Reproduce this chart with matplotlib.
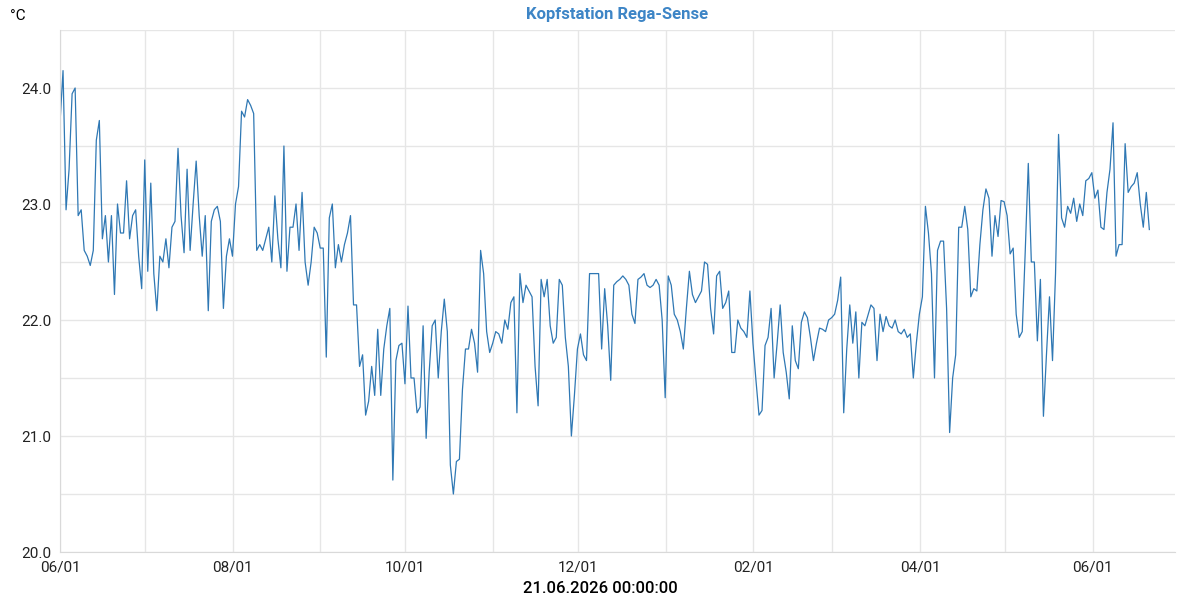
import matplotlib
matplotlib.use("Agg")
import matplotlib.pyplot as plt
import matplotlib.dates as mdates
import numpy as np
import pandas as pd

plt.rcParams['font.family'] = ['Roboto', 'DejaVu Sans']

# temperature readings (°C), in order, roughly daily from 2025-06-01 to 2026-06-21
temps = [
    23.7, 24.15, 22.95, 23.3, 23.95, 24.0, 22.9, 22.95, 22.6, 22.55, 22.47, 22.6,
    23.55, 23.72, 22.7, 22.9, 22.5, 22.9, 22.22, 23.0, 22.75, 22.75, 23.2, 22.7,
    22.9, 22.95, 22.55, 22.27, 23.38, 22.42, 23.18, 22.4, 22.08, 22.55, 22.5, 22.7,
    22.45, 22.8, 22.85, 23.48, 22.9, 22.58, 23.3, 22.6, 23.0, 23.37, 22.9, 22.55,
    22.9, 22.08, 22.85, 22.95, 22.98, 22.85, 22.1, 22.55, 22.7, 22.55, 23.0, 23.15,
    23.8, 23.75, 23.9, 23.85, 23.78, 22.6, 22.65, 22.6, 22.7, 22.8, 22.5, 23.07,
    22.7, 22.45, 23.5, 22.42, 22.8, 22.8, 23.0, 22.6, 23.1, 22.5, 22.3, 22.5,
    22.8, 22.75, 22.62, 22.62, 21.68, 22.88, 23.0, 22.45, 22.65, 22.5, 22.65, 22.75,
    22.9, 22.13, 22.13, 21.6, 21.7, 21.18, 21.3, 21.6, 21.35, 21.92, 21.35, 21.75,
    21.95, 22.1, 20.62, 21.65, 21.78, 21.8, 21.45, 22.12, 21.5, 21.5, 21.2, 21.25,
    21.95, 20.98, 21.55, 21.95, 22.0, 21.5, 21.9, 22.18, 21.9, 20.75, 20.5, 20.78,
    20.8, 21.4, 21.75, 21.75, 21.92, 21.8, 21.55, 22.6, 22.4, 21.9, 21.72, 21.8,
    21.9, 21.88, 21.8, 22.0, 21.92, 22.15, 22.2, 21.2, 22.4, 22.15, 22.3, 22.25,
    22.2, 21.6, 21.26, 22.35, 22.2, 22.35, 21.95, 21.8, 21.85, 22.35, 22.3, 21.85,
    21.6, 21.0, 21.35, 21.75, 21.88, 21.7, 21.65, 22.4, 22.4, 22.4, 22.4, 21.75,
    22.27, 21.95, 21.48, 22.3, 22.33, 22.35, 22.38, 22.35, 22.3, 22.05, 21.97, 22.35,
    22.37, 22.4, 22.3, 22.28, 22.3, 22.35, 22.3, 22.0, 21.33, 22.38, 22.3, 22.05,
    22.0, 21.9, 21.75, 22.1, 22.42, 22.22, 22.15, 22.2, 22.25, 22.5, 22.48, 22.1,
    21.88, 22.38, 22.42, 22.1, 22.15, 22.25, 21.72, 21.72, 22.0, 21.93, 21.9, 21.85,
    22.25, 21.8, 21.48, 21.18, 21.22, 21.78, 21.85, 22.1, 21.5, 21.8, 22.13, 21.72,
    21.55, 21.32, 21.95, 21.65, 21.58, 21.98, 22.07, 22.02, 21.85, 21.65, 21.8, 21.93,
    21.92, 21.9, 22.0, 22.02, 22.05, 22.17, 22.37, 21.2, 21.75, 22.13, 21.8, 22.07,
    21.5, 21.98, 21.95, 22.04, 22.13, 22.1, 21.65, 22.05, 21.9, 22.03, 21.95, 21.93,
    22.0, 21.9, 21.88, 21.92, 21.85, 21.88, 21.5, 21.8, 22.05, 22.2, 22.98, 22.75,
    22.4, 21.5, 22.6, 22.68, 22.68, 22.1, 21.03, 21.5, 21.7, 22.8, 22.8, 22.98,
    22.78, 22.2, 22.27, 22.25, 22.65, 22.95, 23.13, 23.05, 22.55, 22.9, 22.72, 23.03,
    23.02, 22.9, 22.57, 22.62, 22.05, 21.85, 21.9, 22.6, 23.35, 22.5, 22.5, 21.82,
    22.35, 21.17, 21.7, 22.2, 21.65, 22.4, 23.6, 22.88, 22.8, 22.98, 22.92, 23.05,
    22.85, 23.0, 22.9, 23.2, 23.22, 23.27, 23.05, 23.12, 22.8, 22.78, 23.1, 23.3,
    23.7, 22.55, 22.65, 22.65, 23.52, 23.1, 23.15, 23.18, 23.27, 23.0, 22.8, 23.1,
    22.78,
]
start = pd.Timestamp("2025-06-01")
end = pd.Timestamp("2026-06-21")
dates = pd.date_range(start, end, periods=len(temps))

fig = plt.figure(figsize=(12, 6), dpi=100)
ax = fig.add_axes([0.05, 0.08, 0.929, 0.87])

ax.plot(dates, temps, color="#2f78b4", lw=0.9)

ax.set_xlim(start, pd.Timestamp("2026-06-30"))
ax.set_ylim(20, 24.5)
ax.set_yticks(np.arange(20, 24.01, 1.0))
ax.set_yticks(np.arange(20, 24.51, 0.5), minor=True)
ax.yaxis.set_major_formatter(matplotlib.ticker.FormatStrFormatter("%.1f"))
ax.xaxis.set_major_locator(mdates.MonthLocator(bymonth=[2, 4, 6, 8, 10, 12]))
ax.xaxis.set_minor_locator(mdates.MonthLocator())
ax.xaxis.set_major_formatter(mdates.DateFormatter("%m/%d"))

ax.grid(True, which="both", color="#e6e6e6", lw=1)
ax.set_axisbelow(True)
for s in ["top", "right"]:
    ax.spines[s].set_visible(False)
for s in ["left", "bottom"]:
    ax.spines[s].set_color("#d9d9d9")
ax.tick_params(which="both", length=0, labelsize=11, colors="#222222", pad=6)

ax.set_title("Kopfstation Rega-Sense", color="#3d85c6", fontsize=12,
             fontweight="bold", pad=8)
fig.text(0.008, 0.985, "°C", fontsize=11, va="top")
fig.text(0.5, 0.012, "21.06.2026 00:00:00", fontsize=12, ha="center",
         fontweight="medium")

fig.savefig("out.png")
